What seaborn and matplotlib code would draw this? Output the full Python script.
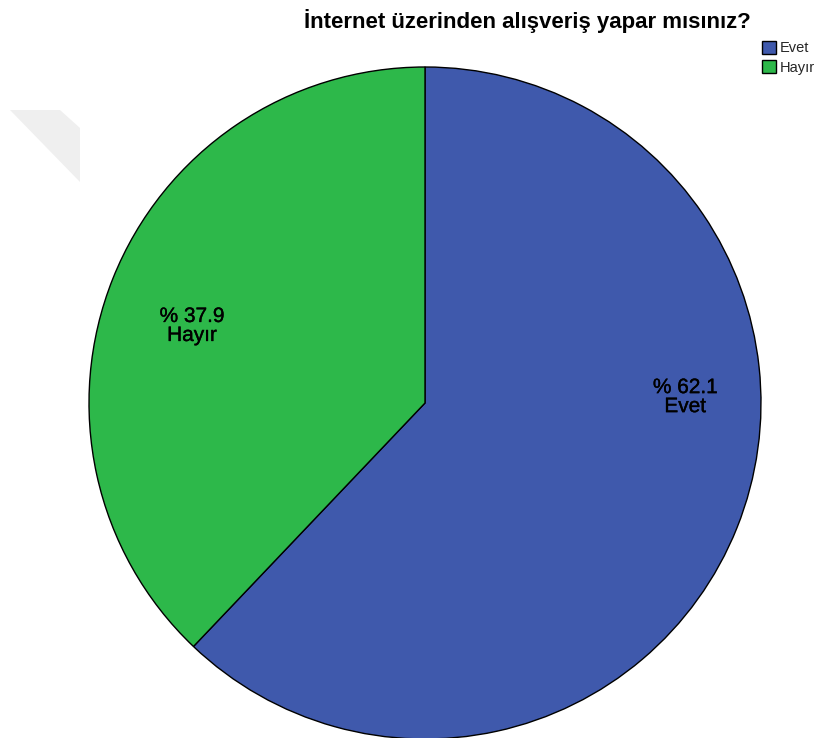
import numpy as np
import matplotlib
matplotlib.use("Agg")
import matplotlib.pyplot as plt
import matplotlib.patheffects as pe
from matplotlib.patches import Patch, Polygon
import seaborn as sns

# Survey answers and their percentage shares
categories = ["Evet", "Hayır"]
percentages = [62.1, 37.9]
title = "İnternet üzerinden alışveriş yapar mısınız?"

colors = ["#3F59AC", "#2DB84A"]
# angle (degrees) and relative radius for each in-slice label
label_angles = [1.3, 161.7]
label_radius = [0.775, 0.73]

sns.set_theme(style="white")
plt.rcParams["font.family"] = ["Liberation Sans", "DejaVu Sans"]

W, H = 819, 738
fig = plt.figure(figsize=(W / 100, H / 100), dpi=100)
fig.patch.set_facecolor("white")

# faint watermark shape in the upper-left corner
wm = Polygon([[10 / W, 1 - 110 / H], [60 / W, 1 - 110 / H], [80 / W, 1 - 128 / H],
              [80 / W, 1 - 182 / H]], closed=True, transform=fig.transFigure,
             facecolor="#EFEFEF", edgecolor="none", zorder=0)
fig.patches.append(wm)

cx, cy, r = 425, 403, 336
ax = fig.add_axes([(cx - r) / W, 1 - (cy + r) / H, 2 * r / W, 2 * r / H])
ax.pie(percentages, colors=colors, startangle=90, counterclock=False, radius=1,
       wedgeprops=dict(edgecolor="black", linewidth=1.0))
ax.set_xlim(-1, 1)
ax.set_ylim(-1, 1)
ax.axis("off")

heavy = [pe.withStroke(linewidth=0.25, foreground="black")]
for cat, pct, ang, rr in zip(categories, percentages, label_angles, label_radius):
    a = np.deg2rad(ang)
    ax.text(rr * np.cos(a), rr * np.sin(a), f"% {pct:.1f}\n{cat}", ha="center", va="center",
            fontsize=15, color="black", linespacing=1.0, path_effects=heavy)

fig.text(527 / W, 1 - 21 / H, title, ha="center", va="center", fontsize=16,
         fontweight="bold", color="black")

handles = [Patch(facecolor=c, edgecolor="black", linewidth=1.0, label=l)
           for c, l in zip(colors, categories)]
fig.legend(handles=handles, loc="upper left", bbox_to_anchor=(762 / W, 1 - 41 / H),
           frameon=False, fontsize=10.5, handlelength=0.95, handleheight=0.95,
           handletextpad=0.3, labelspacing=0.35, borderpad=0, borderaxespad=0)

fig.savefig("out.png", dpi=100)
